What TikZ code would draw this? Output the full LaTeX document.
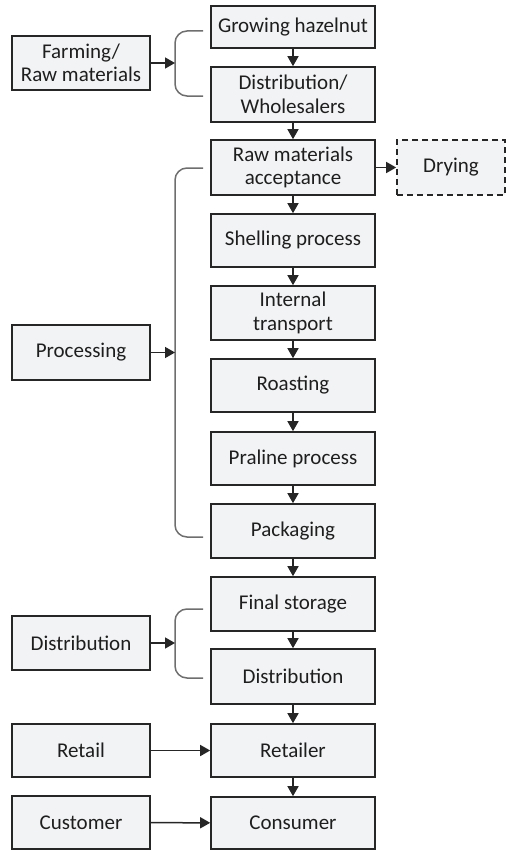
\documentclass[tikz,border=0pt]{standalone}
\usepackage{fontspec}
\setmainfont{Carlito}
\usetikzlibrary{arrows.meta,positioning}
\definecolor{boxfill}{HTML}{F2F3F5}
\definecolor{boxline}{HTML}{262626}
\definecolor{bracecol}{HTML}{6E6E6E}
\definecolor{txt}{HTML}{1E1E1E}
\begin{document}
\begin{tikzpicture}[x=1pt,y=-1pt,
  every node/.style={font=\fontsize{21}{23.5}\selectfont, text=txt, align=center, inner sep=0pt},
  rbox/.style={draw=boxline, fill=boxfill, line width=1.6pt, minimum width=164pt, minimum height=54pt},
  lbox/.style={draw=boxline, fill=boxfill, line width=1.6pt, minimum width=138pt, minimum height=54pt},
  dbox/.style={draw=boxline, fill=boxfill, line width=1.6pt, dashed, dash pattern=on 6pt off 4pt, minimum width=108pt, minimum height=55pt},
  arr/.style={-{Triangle[length=10pt,width=11pt]}, line width=1.5pt, draw=boxline},
  brace/.style={draw=bracecol, line width=1.5pt, rounded corners=12pt}
]
\useasboundingbox (0,0) rectangle (507,851);
% right column
\node[rbox, minimum height=42pt] (grow) at (293,27) {Growing hazelnut};
\node[rbox, minimum height=55pt] (whole) at (293,94.5) {Distribution/\\Wholesalers};
\node[rbox, minimum height=55pt] (raw) at (293,167.5) {Raw materials\\acceptance};
\node[dbox] (dry) at (451,167.5) {Drying};
\node[rbox, minimum height=53pt] (shell) at (293,240.5) {Shelling process};
\node[rbox] (intern) at (293,313) {Internal\\transport};
\node[rbox, minimum height=53pt] (roast) at (293,385.5) {Roasting};
\node[rbox, minimum height=53pt] (praline) at (293,458.5) {Praline process};
\node[rbox] (pack) at (293,531) {Packaging};
\node[rbox] (final) at (293,604) {Final storage};
\node[rbox, minimum height=55pt] (distr) at (293,676.5) {Distribution};
\node[rbox, minimum height=53pt] (retailer) at (293,750.5) {Retailer};
\node[rbox, minimum height=52pt] (consumer) at (293,823) {Consumer};
% left column
\node[lbox] (farm) at (81,63) {Farming/\\Raw materials};
\node[lbox, minimum height=55pt] (proc) at (81,352.5) {Processing};
\node[lbox] (ldist) at (81,643) {Distribution};
\node[lbox, minimum height=53pt] (retail) at (81,750.5) {Retail};
\node[lbox, minimum height=53pt] (cust) at (81,822.5) {Customer};
% vertical arrows
\foreach \a/\b in {grow/whole, whole/raw, raw/shell, shell/intern, intern/roast, roast/praline, praline/pack, pack/final, final/distr, distr/retailer, retailer/consumer}
  \draw[arr] (\a) -- (\b);
\draw[arr] (raw) -- (dry);
\draw[arr] (retail) -- (retailer);
\draw[arr] (cust) -- (consumer);
% braces
\coordinate (b1) at (175,63);
\coordinate (b2) at (175,352.5);
\coordinate (b3) at (175,643);
\draw[brace] (203,31) -- (175,31) -- (175,96) -- (203,96);
\draw[brace] (203,168) -- (175,168) -- (175,537) -- (203,537);
\draw[brace] (203,609) -- (175,609) -- (175,678) -- (203,678);
\draw[arr] (farm) -- (b1);
\draw[arr] (proc) -- (b2);
\draw[arr] (ldist) -- (b3);
\end{tikzpicture}
\end{document}
